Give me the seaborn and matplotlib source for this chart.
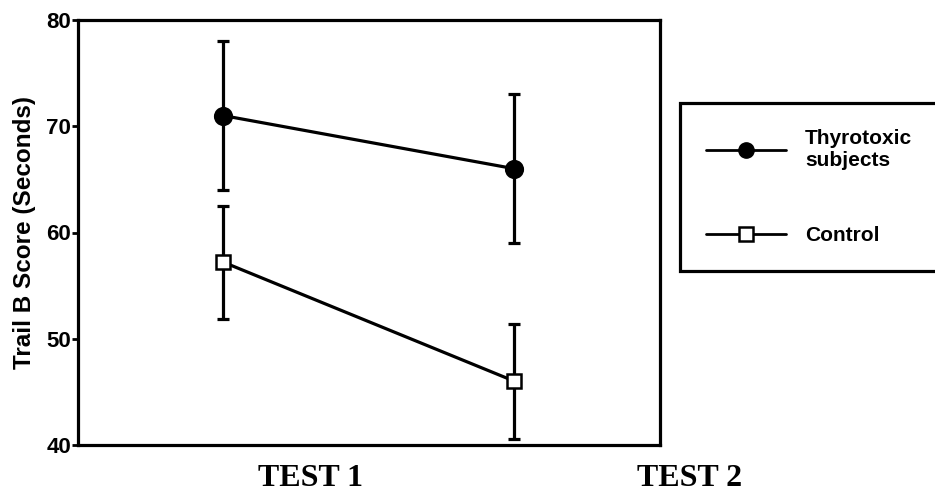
import numpy as np
import pandas as pd
import matplotlib
matplotlib.use('Agg')
import matplotlib.pyplot as plt
import seaborn as sns
from matplotlib.lines import Line2D

# Datos
tests = [1, 2]
tick_labels = ['TEST 1', 'TEST 2']
thyro_mean = [71.0, 66.0]
thyro_err = [7.0, 7.0]
control_mean = [57.2, 46.0]
control_err = [5.3, 5.4]
groups = ['Thyrotoxic\nsubjects', 'Control']

df = pd.DataFrame({
    'test': tests * 2,
    'score': thyro_mean + control_mean,
    'group': [groups[0]] * 2 + [groups[1]] * 2,
})

sns.set_style('ticks', {'axes.edgecolor': 'black', 'text.color': 'black',
                        'axes.labelcolor': 'black', 'xtick.color': 'black',
                        'ytick.color': 'black'})
plt.rcParams['font.family'] = ['Liberation Sans', 'DejaVu Sans']

fig = plt.figure(figsize=(9.35, 4.92), dpi=100)
ax = fig.add_axes([78 / 935, 47 / 492, 582 / 935, 425 / 492])

lw = 2.3
# barras de error
ax.errorbar(tests, thyro_mean, yerr=thyro_err, fmt='none', ecolor='black',
            elinewidth=lw, capsize=4.5, capthick=lw, zorder=1)
ax.errorbar(tests, control_mean, yerr=control_err, fmt='none', ecolor='black',
            elinewidth=lw, capsize=4.5, capthick=lw, zorder=1)

sns.lineplot(data=df, x='test', y='score', hue='group', style='group',
             markers={groups[0]: 'o', groups[1]: 's'}, dashes=False,
             palette={groups[0]: 'black', groups[1]: 'black'},
             linewidth=lw, markersize=12, markeredgewidth=1.8,
             markeredgecolor='black', ax=ax, zorder=3, legend=False)
# relleno blanco para el control
for ln in ax.lines:
    if ln.get_marker() == 's':
        ln.set_markerfacecolor('white')
        ln.set_markersize(10.5)

ax.set_xlim(0.5, 2.5)
ax.set_ylim(40, 80)
ax.set_yticks([40, 50, 60, 70, 80])
ax.set_xticks([])
ax.set_xlabel('')
ax.set_ylabel('Trail B Score (Seconds)', fontsize=17.5, fontweight='bold',
              labelpad=7)
ax.tick_params(axis='y', labelsize=16, width=2, length=4, pad=1)
for lab in ax.get_yticklabels():
    lab.set_fontweight('bold')
for sp in ax.spines.values():
    sp.set_linewidth(2.3)
    sp.set_visible(True)

# etiquetas de las pruebas (desplazadas como en el original)
for xpos, txt in zip([1.3, 2.6], tick_labels):
    ax.text(xpos, -0.08, txt, transform=ax.get_xaxis_transform(),
            ha='center', va='center', fontsize=23, fontweight='bold',
            family=['Liberation Serif', 'DejaVu Serif'], clip_on=False)

# leyenda
handles = [
    Line2D([], [], color='black', lw=2, marker='o', markersize=11,
           markerfacecolor='black'),
    Line2D([], [], color='black', lw=2, marker='s', markersize=10,
           markerfacecolor='white', markeredgewidth=1.8),
]
leg = fig.legend(handles, groups, loc='upper left',
                 bbox_to_anchor=(680 / 935, 1 - 268 / 492, 300 / 935, 165 / 492),
                 mode='expand', frameon=True, fancybox=False, edgecolor='black',
                 framealpha=1, handlelength=3.85, handletextpad=0.9,
                 labelspacing=2.7, borderpad=1.25, borderaxespad=0,
                 prop={'size': 15, 'weight': 'bold'})
leg.get_frame().set_linewidth(2.3)

fig.savefig('out.png', dpi=100)
